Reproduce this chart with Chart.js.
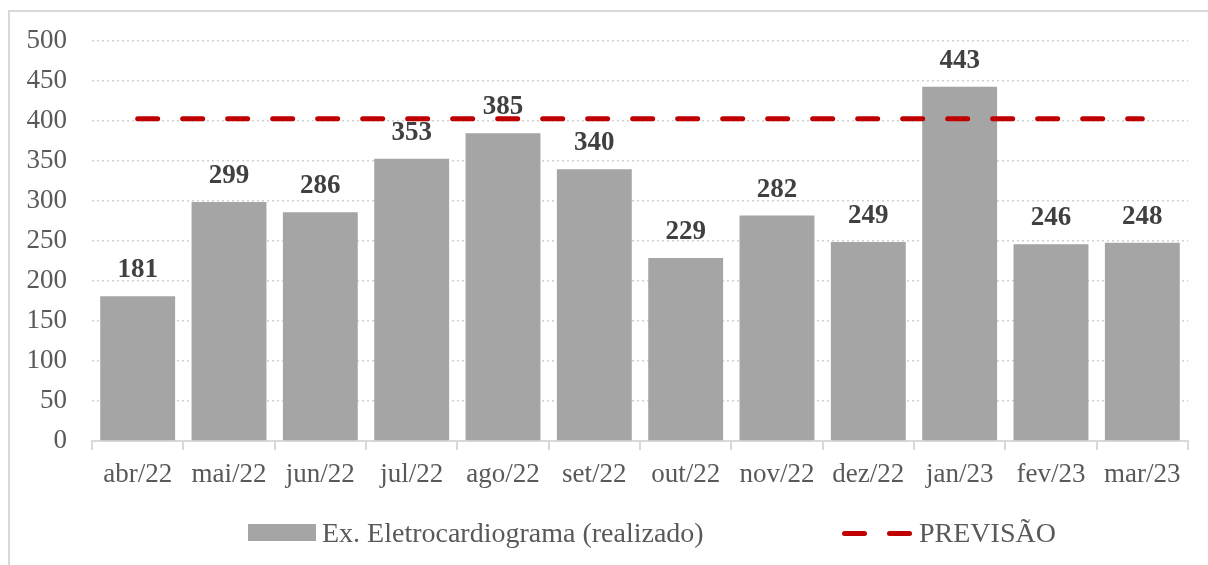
<!DOCTYPE html>
<html>
<head>
<meta charset="utf-8">
<script src="https://cdn.jsdelivr.net/npm/chart.js@4"></script>
<style>
  html, body { margin:0; padding:0; background:#fff; }
  #wrap { position:relative; width:1208px; height:565px; overflow:hidden; font-family:"Liberation Serif","Times New Roman",serif; }
  #frame { position:absolute; left:8px; top:10px; width:1300px; height:700px; border:2px solid #d9d9d9; box-sizing:border-box; }
  #c { position:absolute; left:0; top:0; }
  .lg { position:absolute; font-size:28px; color:#595959; line-height:30px; white-space:nowrap; }
  .box { position:absolute; background:#a5a5a5; }
  .dash { position:absolute; background:#c00000; height:5px; border-radius:3px; }
</style>
</head>
<body>
<div id="wrap">
  <div id="frame"></div>
  <canvas id="c" width="1208" height="565"></canvas>
  <div class="box" style="left:248px;top:524px;width:68px;height:17px;"></div>
  <div class="lg" style="left:322px;top:518px;">Ex. Eletrocardiograma (realizado)</div>
  <div class="dash" style="left:842px;top:531px;width:25px;"></div>
  <div class="dash" style="left:887px;top:531px;width:25px;"></div>
  <div class="lg" style="left:919px;top:518px;">PREVISÃO</div>
</div>
<script>
const categories = ["abr/22","mai/22","jun/22","jul/22","ago/22","set/22","out/22","nov/22","dez/22","jan/23","fev/23","mar/23"];
const realizado = [181,299,286,353,385,340,229,282,249,443,246,248];
const previsao = [403,403,403,403,403,403,403,403,403,403,403,403];
const yTicks = [0,50,100,150,200,250,300,350,400,450,500];

const FONT = '"Liberation Serif","Times New Roman",serif';

const labelPlugin = {
  id: 'barLabels',
  afterDatasetDraw(chart, args) {
    if (args.index !== 1) return;
    const ctx = chart.ctx;
    const meta = chart.getDatasetMeta(1);
    ctx.save();
    ctx.font = 'bold 27px ' + FONT;
    ctx.fillStyle = '#404040';
    ctx.textAlign = 'center';
    ctx.textBaseline = 'alphabetic';
    meta.data.forEach((bar, i) => {
      ctx.fillText(String(realizado[i]), bar.x, bar.y - 19);
    });
    ctx.restore();
  }
};

new Chart(document.getElementById('c'), {
  data: {
    labels: categories,
    datasets: [
      {
        type: 'line',
        label: 'PREVISÃO',
        data: previsao,
        borderColor: '#c00000',
        borderWidth: 5,
        borderDash: [20, 25],
        borderCapStyle: 'round',
        pointRadius: 0,
        fill: false,
        order: 0
      },
      {
        type: 'bar',
        label: 'Ex. Eletrocardiograma (realizado)',
        data: realizado,
        backgroundColor: '#a5a5a5',
        categoryPercentage: 1.0,
        barPercentage: 0.82,
        order: 1
      }
    ]
  },
  options: {
    responsive: false,
    animation: false,
    events: [],
    layout: { padding: { top: 40, right: 20, left: 0, bottom: 0 } },
    plugins: { legend: { display: false }, tooltip: { enabled: false } },
    scales: {
      x: {
        offset: true,
        grid: { display: true, offset: true, drawOnChartArea: false, drawTicks: true, tickLength: 9, color: '#d9d9d9', lineWidth: 2 },
        border: { display: true, color: '#d9d9d9', width: 2 },
        ticks: { font: { family: FONT, size: 27 }, color: '#595959', padding: 9, maxRotation: 0, autoSkip: false },
        afterFit(scale) { scale.height = 124; }
      },
      y: {
        min: 0, max: 500,
        afterBuildTicks(scale) { scale.ticks = yTicks.map(v => ({ value: v })); },
        grid: { color: '#d0d0d0', lineWidth: 1.5, drawTicks: false },
        border: { display: false, dash: [2, 3] },
        ticks: { font: { family: FONT, size: 27 }, color: '#595959', padding: 25 },
        afterFit(scale) { scale.width = 92; }
      }
    }
  },
  plugins: [labelPlugin]
});
</script>
</body>
</html>
